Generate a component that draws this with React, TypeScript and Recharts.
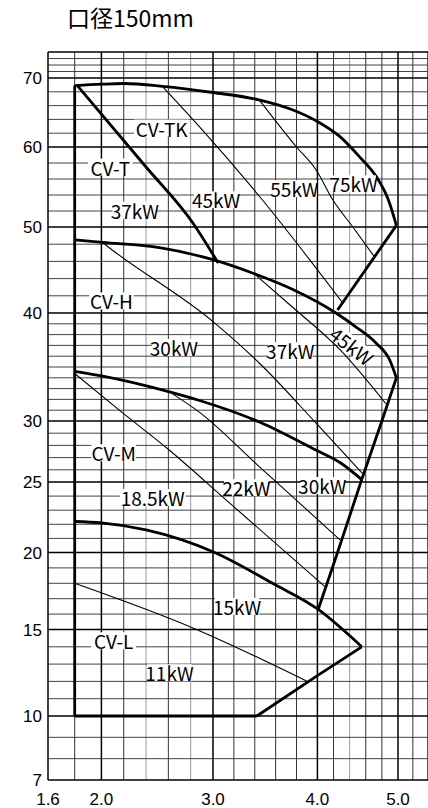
import React from 'react';
import { ComposedChart, Line, Scatter, XAxis, YAxis, ReferenceLine } from 'recharts';

// paper positions of the printed axis marks (the chart uses an uneven scale)
const xPaper: [number, number][] = [[1.6, 0], [2.0, 53.4], [3.0, 165], [4.0, 269.4], [5.0, 350], [5.4, 379.7], [5.6, 394]];
const yPaper: [number, number][] = [[7, 0], [10, 64], [15, 150.5], [20, 227.5], [25, 298], [30, 359], [40, 467], [50, 553], [60, 633], [70, 702], [74, 728]];

const xTicks = [1.6, 2, 3, 4, 5];
const yTicks = [7, 10, 15, 20, 25, 30, 40, 50, 60, 70];

const xMajor = [2, 3, 4, 5];
const xMinor = [1.8, 2.2, 2.6, 3.2, 3.4, 3.6, 3.8, 4.2, 4.6, 4.8, 5.2, 5.4];
const xGray = [2.4, 2.8, 4.4];
const yMajor = [10, 15, 20, 25, 30, 40, 50, 60, 70, 74];
const yMinor = [8, 9, 11, 12, 13, 14, 16, 17, 18, 19, 21, 22, 23, 24, 26, 27, 28, 29,
  31, 32, 33, 34, 35, 36, 37, 38, 39, 42, 44, 46, 48, 52, 54, 56, 58, 62, 64, 66, 68, 71, 72, 73];

// outline (thick)
const leftEdge = [[1.8, 10], [1.8, 68.9]];
const bottomEdge = [[1.8, 10], [3.42, 10]];
const cvTk = [[1.8, 68.9], [2.0, 69.1], [2.2, 69.2], [2.55, 68.8], [3.0, 67.9], [3.45, 66.8], [3.76, 65.4], [4.0, 63.7], [4.28, 61.5], [4.52, 58.8], [4.73, 56.3], [4.88, 53.4], [4.98, 50.2]];
const cvT = [[1.82, 68.9], [2.4, 57.5], [2.82, 50.5], [3.05, 45.8]];
const tkEdge = [[4.98, 50.2], [4.25, 40.35]];
const cvH = [[1.8, 48.5], [2.01, 48.2], [2.52, 47.6], [3.0, 46.2], [3.41, 44.5], [3.77, 42.7], [4.23, 40.0], [4.48, 38.7], [4.73, 37.2], [4.9, 35.6], [4.98, 34.0]];
const hEdge = [[4.98, 34.0], [4.8, 30], [4.55, 25.2]];
const cvM = [[1.8, 34.6], [1.99, 34.2], [2.61, 32.7], [2.88, 31.9], [3.45, 29.9], [3.99, 27.6], [4.28, 26.6], [4.55, 25.2]];
const mEdge = [[4.55, 25.2], [4.25, 20], [4.01, 16.3]];
const cvL = [[1.8, 22.2], [2.0, 22.1], [2.4, 21.6], [3.0, 20.05], [3.57, 18.0], [4.01, 16.3], [4.55, 14.0]];
const lEdge = [[4.55, 14.0], [4.0, 12.33], [3.42, 10]];

// motor limits (thin)
const tk45 = [[2.55, 68.7], [2.88, 62.9], [3.45, 53.75], [4.32, 41.1]];
const tk55 = [[3.45, 66.7], [3.8, 60.0], [3.99, 57.1], [4.19, 53.4], [4.44, 50.0], [4.71, 46.5]];
const h30 = [[2.01, 48.2], [2.1, 47.3], [3.0, 39.2], [3.45, 35.3], [3.99, 29.8], [4.56, 25.7]];
const h37 = [[3.41, 44.4], [3.76, 40.7], [4.28, 36.6], [4.85, 31.6]];
const m18 = [[1.8, 34.4], [2.16, 31.0], [2.61, 27.6], [3.13, 23.7], [4.09, 17.8]];
const m22 = [[2.61, 32.7], [2.88, 30.8], [3.45, 26.2], [3.8, 23.7], [4.28, 20.9]];
const l11 = [[1.8, 18.0], [2.82, 15.1], [3.91, 11.98]];

const labels = [
  { q: 2.54, h: 62.75, text: 'CV-TK' },
  { q: 2.08, h: 57.5, text: 'CV-T' },
  { q: 2.3, h: 52.1, text: '37kW' },
  { q: 3.03, h: 53.4, text: '45kW' },
  { q: 3.78, h: 54.8, text: '55kW' },
  { q: 4.45, h: 55.4, text: '75kW' },
  { q: 2.09, h: 41.4, text: 'CV-H' },
  { q: 2.65, h: 36.8, text: '30kW' },
  { q: 3.74, h: 36.5, text: '37kW' },
  { q: 4.43, h: 37.0, text: '45kW', tilt: true },
  { q: 2.11, h: 27.4, text: 'CV-M' },
  { q: 2.46, h: 23.9, text: '18.5kW' },
  { q: 3.32, h: 24.6, text: '22kW' },
  { q: 4.06, h: 24.75, text: '30kW' },
  { q: 3.23, h: 16.5, text: '15kW' },
  { q: 2.11, h: 14.35, text: 'CV-L' },
  { q: 2.61, h: 12.5, text: '11kW' },
];

function paperScale(anchors: [number, number][]): any {
  let dom = [anchors[0][0], anchors[anchors.length - 1][0]];
  let rng = [0, 1];
  const p0 = anchors[0][1];
  const span = anchors[anchors.length - 1][1] - p0;
  const toPaper = (v: number) => {
    let i = 0;
    while (i < anchors.length - 2 && v > anchors[i + 1][0]) i++;
    const [a, pa] = anchors[i];
    const [b, pb] = anchors[i + 1];
    return pa + ((v - a) * (pb - pa)) / (b - a);
  };
  const scale: any = (v: number) => rng[0] + ((toPaper(Number(v)) - p0) / span) * (rng[1] - rng[0]);
  scale.domain = (d?: number[]) => {
    if (d === undefined) return dom.slice();
    dom = d.map(Number);
    return scale;
  };
  scale.range = (r?: number[]) => {
    if (r === undefined) return rng.slice();
    rng = r.map(Number);
    return scale;
  };
  scale.copy = () => paperScale(anchors).domain(dom).range(rng);
  scale.ticks = () => anchors.map((a) => a[0]);
  scale.tickFormat = () => (v: number) => String(v);
  scale.invert = (px: number) => {
    const p = p0 + ((px - rng[0]) / (rng[1] - rng[0])) * span;
    let i = 0;
    while (i < anchors.length - 2 && p > anchors[i + 1][1]) i++;
    const [a, pa] = anchors[i];
    const [b, pb] = anchors[i + 1];
    return a + ((p - pa) * (b - a)) / (pb - pa);
  };
  scale.clamp = () => scale;
  scale.nice = () => scale;
  return scale;
}

const xScale = paperScale(xPaper);
const yScale = paperScale(yPaper);

const pts = (arr: number[][]) => arr.map(([q, h]) => ({ q, h }));

const LABEL_FONT = '"Noto Sans CJK JP", "Noto Sans", sans-serif';
const TICK_FONT = '"Liberation Sans", Arial, sans-serif';

const LabelShape = (props: any) => {
  const { cx, cy, payload } = props;
  if (cx == null || cy == null) return null;
  const fs = 19;
  const w = payload.text.length * fs * 0.56 + 2;
  const h = fs - 2;
  return (
    <g transform={payload.tilt ? `rotate(38 ${cx} ${cy})` : undefined}>
      <rect x={cx - w / 2} y={cy - h / 2} width={w} height={h} fill="#fff" />
      <text x={cx} y={cy} textAnchor="middle" dominantBaseline="central" fontSize={fs} fontFamily={LABEL_FONT} fill="#000">
        {payload.text}
      </text>
    </g>
  );
};

const thick = [leftEdge, bottomEdge, tkEdge, hEdge, mEdge, lEdge];
const thickCurves = [cvTk, cvT, cvH, cvM, cvL];
const thin = [tk45, tk55, h30, h37, m18, m22, l11];

export default function App() {
  return (
    <div style={{ position: 'absolute', left: 0, top: 0, width: 428, height: 808, overflow: 'hidden', background: '#fff' }}>
      <div style={{ position: 'absolute', left: 67, top: 6, fontSize: 23, lineHeight: '23px', fontFamily: LABEL_FONT, color: '#000' }}>
        口径150mm
      </div>
      <ComposedChart width={442} height={808} margin={{ top: 52, right: 0, bottom: 0, left: 0 }}>
        <XAxis
          dataKey="q"
          type="number"
          scale={xScale}
          domain={[1.6, 5.6]}
          allowDataOverflow
          ticks={xTicks}
          interval={0}
          height={28}
          tickSize={0}
          tickMargin={13}
          tickFormatter={(v: number) => v.toFixed(1)}
          tick={{ fill: '#000', fontSize: 17, fontFamily: TICK_FONT }}
          axisLine={{ stroke: '#000', strokeWidth: 1.5 }}
        />
        <YAxis
          dataKey="h"
          type="number"
          scale={yScale}
          domain={[7, 74]}
          allowDataOverflow
          ticks={yTicks}
          interval={0}
          width={48}
          tickSize={0}
          tickMargin={6}
          tick={{ fill: '#000', fontSize: 17, fontFamily: TICK_FONT }}
          axisLine={{ stroke: '#000', strokeWidth: 1.5 }}
        />
        {xGray.map((v) => (
          <ReferenceLine key={'xg' + v} x={v} stroke="#9a9a9a" strokeWidth={1} />
        ))}
        {yMinor.map((v) => (
          <ReferenceLine key={'ym' + v} y={v} stroke="#444" strokeWidth={1} />
        ))}
        {xMinor.map((v) => (
          <ReferenceLine key={'xm' + v} x={v} stroke="#333" strokeWidth={1} />
        ))}
        {yMajor.map((v) => (
          <ReferenceLine key={'yM' + v} y={v} stroke="#000" strokeWidth={1.5} />
        ))}
        {xMajor.map((v) => (
          <ReferenceLine key={'xM' + v} x={v} stroke="#000" strokeWidth={1.5} />
        ))}
        {thin.map((s, i) => (
          <Line key={'thin' + i} data={pts(s)} dataKey="h" type="monotone" stroke="#000" strokeWidth={1.1} dot={false} activeDot={false} isAnimationActive={false} />
        ))}
        {thickCurves.map((s, i) => (
          <Line key={'curve' + i} data={pts(s)} dataKey="h" type="monotone" stroke="#000" strokeWidth={2.8} dot={false} activeDot={false} isAnimationActive={false} />
        ))}
        {thick.map((s, i) => (
          <Line key={'edge' + i} data={pts(s)} dataKey="h" type="linear" stroke="#000" strokeWidth={2.8} dot={false} activeDot={false} isAnimationActive={false} />
        ))}
        <Scatter data={labels} dataKey="h" shape={LabelShape} isAnimationActive={false} />
      </ComposedChart>
    </div>
  );
}
